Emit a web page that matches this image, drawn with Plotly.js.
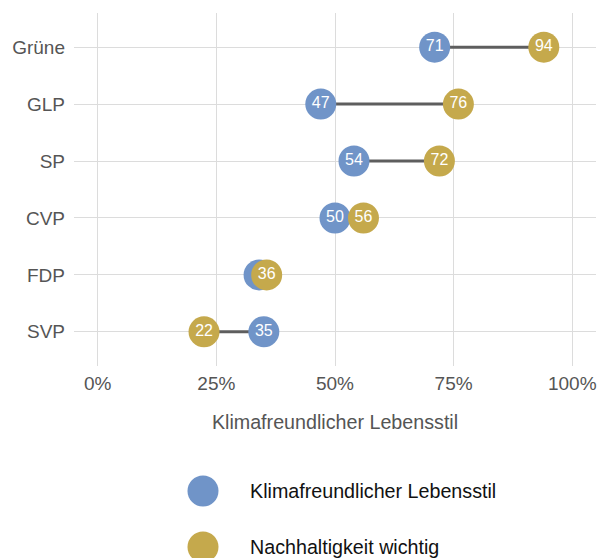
<!DOCTYPE html>
<html>
<head>
<meta charset="utf-8">
<script src="https://cdn.plot.ly/plotly-3.0.1.min.js"></script>
<style>html,body{margin:0;padding:0;background:#fff;}#chart{width:599px;height:558px;}</style>
</head>
<body>
<div id="chart"></div>
<script>
const parties = ["Grüne", "GLP", "SP", "CVP", "FDP", "SVP"];
const klima = [71, 47, 54, 50, 34, 35];
const nachhaltig = [94, 76, 72, 56, 35.6, 22.4];
const seriesNames = ["Klimafreundlicher Lebensstil", "Nachhaltigkeit wichtig"];
const tickVals = [0, 25, 50, 75, 100];
const tickLabels = ["0%", "25%", "50%", "75%", "100%"];

const BLUE = "rgb(112,148,200)";
const GOLD = "rgb(197,169,76)";
const FONT = "Liberation Sans, Arial, sans-serif";

// connector lines
const lx = [], ly = [];
parties.forEach((p, i) => { lx.push(klima[i], nachhaltig[i], null); ly.push(p, p, null); });

// a label hidden below an overlapping circle is not shown
const klimaText = klima.map((v, i) => Math.abs(v - nachhaltig[i]) < 4 ? "" : String(Math.round(v)));
const nachText = nachhaltig.map(v => String(Math.round(v)));

const traces = [
  {x: lx, y: ly, type: "scatter", mode: "lines", line: {color: "#5e5e5e", width: 3},
   hoverinfo: "skip", showlegend: false, xaxis: "x", yaxis: "y"},
  {x: klima, y: parties, type: "scatter", mode: "markers+text", name: seriesNames[0],
   marker: {color: BLUE, size: 31}, text: klimaText, textposition: "middle center",
   textfont: {color: "#fff", size: 16, family: FONT}, cliponaxis: false, showlegend: false},
  {x: nachhaltig, y: parties, type: "scatter", mode: "markers+text", name: seriesNames[1],
   marker: {color: GOLD, size: 31}, text: nachText, textposition: "middle center",
   textfont: {color: "#fff", size: 16, family: FONT}, cliponaxis: false, showlegend: false}
];

// manual legend (large markers) on a helper axis pair measured in pixels
const legX = 203, legY = [491, 547], legTextX = 248;
const legColors = [BLUE, GOLD];
seriesNames.forEach((n, i) => {
  traces.push({x: [legX], y: [legY[i]], type: "scatter", mode: "markers", xaxis: "x2", yaxis: "y2",
    marker: {color: legColors[i], size: 31}, cliponaxis: false, hoverinfo: "skip", showlegend: false});
});
const annotations = seriesNames.map((n, i) => ({
  x: legTextX, y: legY[i], xref: "x2", yref: "y2", text: n, showarrow: false,
  xanchor: "left", yanchor: "middle", font: {size: 19.7, color: "#111", family: FONT}
}));

const W = 599, H = 558, L = 74, R = 3, T = 13, B = 0;
const plotBottom = 366;
const split = (H - plotBottom) / (H - T - B);

const layout = {
  width: W, height: H,
  margin: {l: L, r: R, t: T, b: B, pad: 0},
  paper_bgcolor: "#fff", plot_bgcolor: "#fff",
  font: {family: FONT, color: "#555"},
  showlegend: false,
  xaxis: {range: [-5, 105], tickvals: tickVals, ticktext: tickLabels, showgrid: true, gridcolor: "#dcdcdc",
    gridwidth: 1, zeroline: false, showline: false, ticks: "", ticklabelstandoff: 4,
    tickfont: {size: 19, color: "#555"}, anchor: "y",
    title: {text: seriesNames[0], font: {size: 19.7, color: "#555"}, standoff: 22}},
  yaxis: {domain: [split, 1], type: "category", categoryorder: "array", categoryarray: parties,
    range: [5.6, -0.6], showgrid: true, gridcolor: "#dcdcdc", gridwidth: 1, zeroline: false,
    showline: false, ticks: "", ticklabelstandoff: 8, tickfont: {size: 19, color: "#555"}},
  xaxis2: {domain: [0, 1], range: [L, W - R], visible: false, anchor: "y2", fixedrange: true},
  yaxis2: {domain: [0, split], range: [H, plotBottom], visible: false, anchor: "x2", fixedrange: true},
  annotations: annotations
};

Plotly.newPlot("chart", traces, layout, {displayModeBar: false, staticPlot: true});
</script>
</body>
</html>
